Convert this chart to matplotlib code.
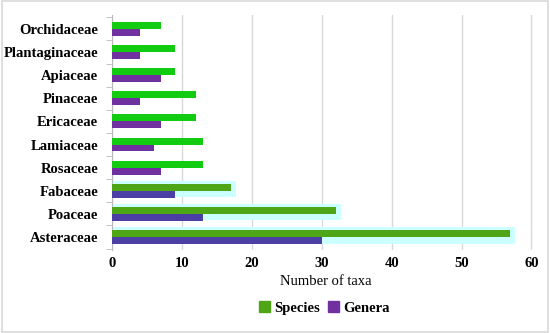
import matplotlib.pyplot as plt
import matplotlib.patches as mpatches
import numpy as np

families = ["Asteraceae", "Poaceae", "Fabaceae", "Rosaceae", "Lamiaceae",
            "Ericaceae", "Pinaceae", "Apiaceae", "Plantaginaceae", "Orchidaceae"]
species = [57, 32, 17, 13, 13, 12, 12, 9, 9, 7]
genera = [30, 13, 9, 7, 6, 7, 4, 7, 4, 4]
highlighted = ["Asteraceae", "Poaceae", "Fabaceae"]

plt.rcParams["font.family"] = ["Liberation Serif", "DejaVu Serif"]

fig = plt.figure(figsize=(5.5, 3.33), dpi=100)
ax = fig.add_axes([0.204, 0.25, 0.775, 0.705])

y = np.arange(len(families))
h = 0.3
glow = "#ccffff"

for i, fam in enumerate(families):
    hl = fam in highlighted
    if hl:
        ax.barh(y[i] + 0.08, species[i] + 0.7, height=0.72, color=glow,
                zorder=1)
    ax.barh(y[i] + h / 2, species[i], height=h,
            color="#4ea616" if hl else "#11cc11", zorder=3)
    ax.barh(y[i] - h / 2, genera[i], height=h,
            color="#4b3fa6" if hl else "#7030a0", zorder=3)

ax.set_xlim(0, 61)
ax.set_ylim(-0.55, len(families) - 0.4)
ax.set_xticks(range(0, 61, 10))
ax.set_yticks(y)
ax.set_yticklabels(families, fontweight="bold", fontsize=10.5)
for lab in ax.get_xticklabels():
    lab.set_fontweight("bold")
    lab.set_fontsize(10.5)
ax.set_yticks(np.arange(-0.5, len(families), 1), minor=True)
ax.tick_params(axis="y", which="major", length=0, pad=10)
ax.tick_params(axis="y", which="minor", length=4, color="#bbbbbb")
ax.tick_params(axis="x", length=0, pad=5)
ax.grid(axis="x", color="#d9d9d9", linewidth=1, zorder=0)
ax.set_axisbelow(True)
for s in ["top", "right", "bottom"]:
    ax.spines[s].set_visible(False)
ax.spines["left"].set_color("#bbbbbb")

ax.set_xlabel("Number of taxa", fontsize=10.5, labelpad=4)

handles = [mpatches.Patch(color="#4ea616", label="Species"),
           mpatches.Patch(color="#7030a0", label="Genera")]
fig.legend(handles=handles, loc="center", bbox_to_anchor=(0.59, 0.075), ncol=2,
           frameon=False, prop={"weight": "bold", "size": 10.5},
           handlelength=0.7, handleheight=0.7, handletextpad=0.3,
           columnspacing=0.6)

fig.patches.append(mpatches.Rectangle((0.003, 0.004), 0.994, 0.992,
                                      transform=fig.transFigure, fill=False,
                                      edgecolor="#d9d9d9", linewidth=1.2))

fig.savefig("out.png", dpi=100)
